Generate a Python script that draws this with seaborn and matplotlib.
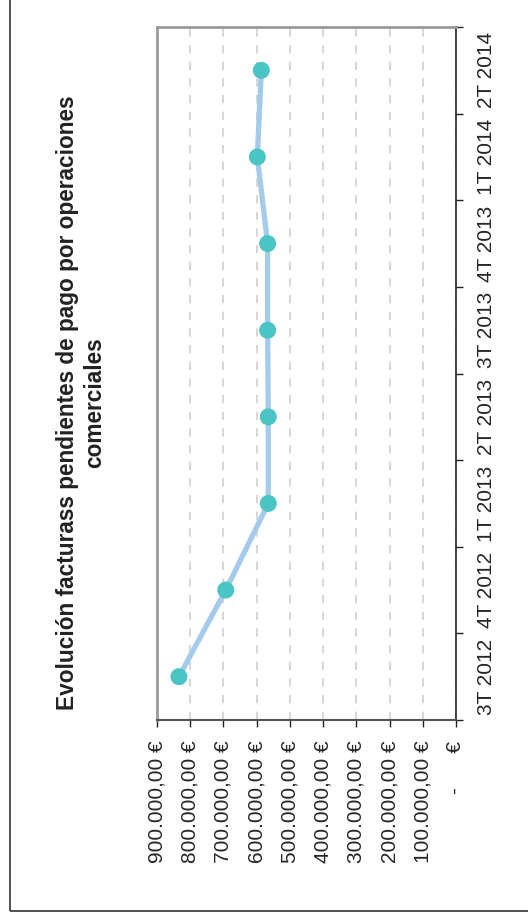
import numpy as np
import pandas as pd
import matplotlib
matplotlib.use('Agg')
import matplotlib.pyplot as plt
from matplotlib.patches import Rectangle
from matplotlib.ticker import FixedLocator, FuncFormatter
import seaborn as sns

# ── Datos ────────────────────────────────────────────────────────────
trimestres = ['3T 2012', '4T 2012', '1T 2013', '2T 2013',
              '3T 2013', '4T 2013', '1T 2014', '2T 2014']
importes = [834000, 693000, 565000, 565000, 567000, 567000, 598000, 586000]
ticks_valor = [0, 100000, 200000, 300000, 400000, 500000,
               600000, 700000, 800000, 900000]
titulo = 'Evolución facturass pendientes de pago por operaciones\ncomerciales'

sns.set_theme(style='white')
plt.rcParams['font.family'] = ['Liberation Sans', 'DejaVu Sans']

df = pd.DataFrame({'trimestre': trimestres,
                   'pos': np.arange(len(trimestres)),
                   'importe': importes})


def fmt_euro(v, _pos=None):
    if v == 0:
        return '-      €'
    s = f'{v:,.2f}'.replace(',', 'X').replace('.', ',').replace('X', '.')
    return s + ' €'


fig = plt.figure(figsize=(5.28, 9.19), dpi=100)
ax = fig.add_axes([157 / 528, 1 - 720 / 919, (456 - 157) / 528, (720 - 27) / 919])

# chart is drawn rotated: values run along x (reversed), quarters along y
sns.lineplot(data=df, x='importe', y='pos', orient='y', sort=False,
             color='#A4CAEC', linewidth=3.8, ax=ax, zorder=2)
sns.scatterplot(data=df, x='importe', y='pos', color='#4BC4C5', s=150,
                edgecolor='none', ax=ax, zorder=3)

ax.set_xlim(900000, 0)
ax.set_ylim(-0.5, len(trimestres) - 0.5)

ax.xaxis.set_major_locator(FixedLocator(ticks_valor))
ax.xaxis.set_major_formatter(FuncFormatter(fmt_euro))
ax.tick_params(axis='x', which='major', direction='out', length=5, width=1,
               color='#222222', pad=10, labelsize=15, labelrotation=90,
               bottom=True)
for lbl in ax.get_xticklabels():
    lbl.set_va('top')

ax.yaxis.tick_right()
ax.yaxis.set_major_locator(FixedLocator(np.arange(-0.5, len(trimestres), 1.0)))
ax.yaxis.set_major_formatter(FuncFormatter(lambda v, p: ''))
ax.yaxis.set_minor_locator(FixedLocator(df['pos']))
ax.set_yticks(df['pos'], trimestres, minor=True)
ax.tick_params(axis='y', which='major', direction='out', length=5, width=1,
               color='#222222', right=True)
ax.tick_params(axis='y', which='minor', length=0, pad=15, labelsize=15,
               labelrotation=90, right=True, left=False)
for lbl in ax.get_yticklabels(minor=True):
    lbl.set_va('center')

ax.grid(axis='x', color='#CFCFCF', linestyle=(0, (5, 5)), linewidth=1.2)
ax.grid(axis='y', visible=False)
ax.set_axisbelow(True)
ax.set_xlabel('')
ax.set_ylabel('')

for side in ['left', 'top']:
    ax.spines[side].set_color('#9A9A9A')
    ax.spines[side].set_linewidth(2)
ax.spines['right'].set_color('#222222')
ax.spines['right'].set_linewidth(1.2)
ax.spines['bottom'].set_color('#555555')
ax.spines['bottom'].set_linewidth(1.5)

fig.text(81 / 528, 1 - 403 / 919, titulo, rotation=90, ha='center',
         va='center', multialignment='center', fontsize=16.3,
         fontweight='bold', color='#222222', linespacing=1.2)

fig.add_artist(Rectangle((10 / 528, 1 - 911 / 919), 2, 2,
                         transform=fig.transFigure, fill=False,
                         edgecolor='#333333', linewidth=1.2))

fig.savefig('out.png', dpi=100, facecolor='white')
